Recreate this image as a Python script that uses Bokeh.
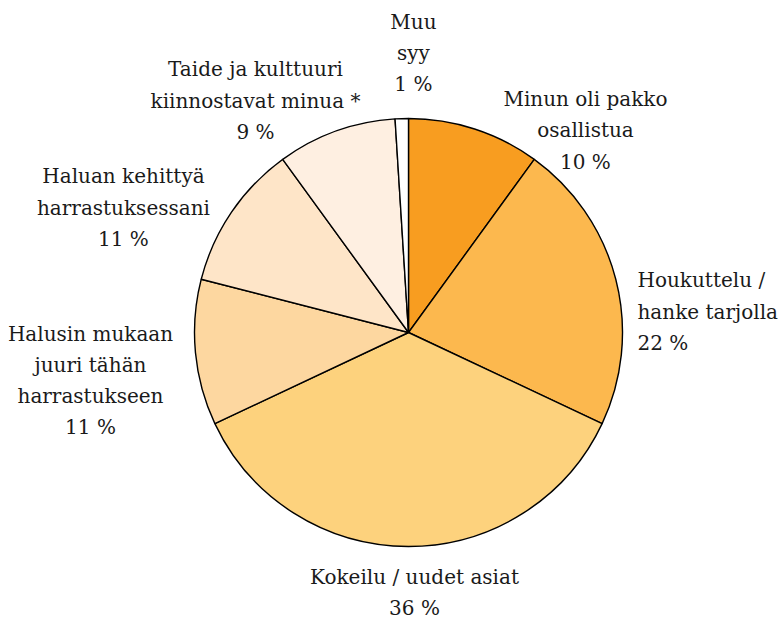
import math
from bokeh.plotting import figure
from bokeh.models import ColumnDataSource, Range1d
from bokeh.core.properties import value
from bokeh.embed import file_html
from bokeh.resources import INLINE

# ---- data ----
categories = [
    "Minun oli pakko\nosallistua",
    "Houkuttelu /\nhanke tarjolla",
    "Kokeilu / uudet asiat",
    "Halusin mukaan\njuuri tähän\nharrastukseen",
    "Haluan kehittyä\nharrastuksessani",
    "Taide ja kulttuuri\nkiinnostavat minua *",
    "Muu\nsyy",
]
percent = [10, 22, 36, 11, 11, 9, 1]
colors = ["#F89D20", "#FCB84E", "#FDD27D", "#FDD7A0", "#FEE5C8", "#FEEFE1", "#FFFFFF"]

# ---- label layout (pie-radius units, relative to centre) ----
label_pos = [(0.827, 0.944), (1.07, 0.098), (0.028, -1.215), (-1.486, -0.224),
             (-1.332, 0.584), (-0.715, 1.084), (0.023, 1.305)]
label_align = ["center", "left", "center", "center", "center", "center", "center"]

W, H = 784, 621
CX, CY = 408, 332   # pie centre in figure pixels (from top-left)
S = 214.0           # pixels per pie radius

total = sum(percent)
starts, ends = [], []
a = math.pi / 2
for v in percent:
    starts.append(a)
    a -= v / total * 2 * math.pi
    ends.append(a)

src = ColumnDataSource(dict(start=starts, end=ends, color=colors))

p = figure(width=W, height=H, output_backend="svg", toolbar_location=None,
           x_range=Range1d(-CX / S, (W - CX) / S), y_range=Range1d(-(H - CY) / S, CY / S),
           min_border=0)
p.axis.visible = False
p.grid.visible = False
p.outline_line_color = None

p.wedge(x=0, y=0, radius=1, start_angle="start", end_angle="end", direction="clock",
        fill_color="color", line_color="#000000", line_width=1.4, source=src)

for cat, v, (lx, ly), al in zip(categories, percent, label_pos, label_align):
    p.text(x=[lx], y=[ly], text=[f"{cat}\n{v} %"], text_align=al, text_baseline="middle",
           text_font=value("DejaVu Serif"), text_font_size="20px",
           text_line_height=1.3, text_color="#1a1a1a")

open("out.html", "w").write(file_html(p, INLINE))
